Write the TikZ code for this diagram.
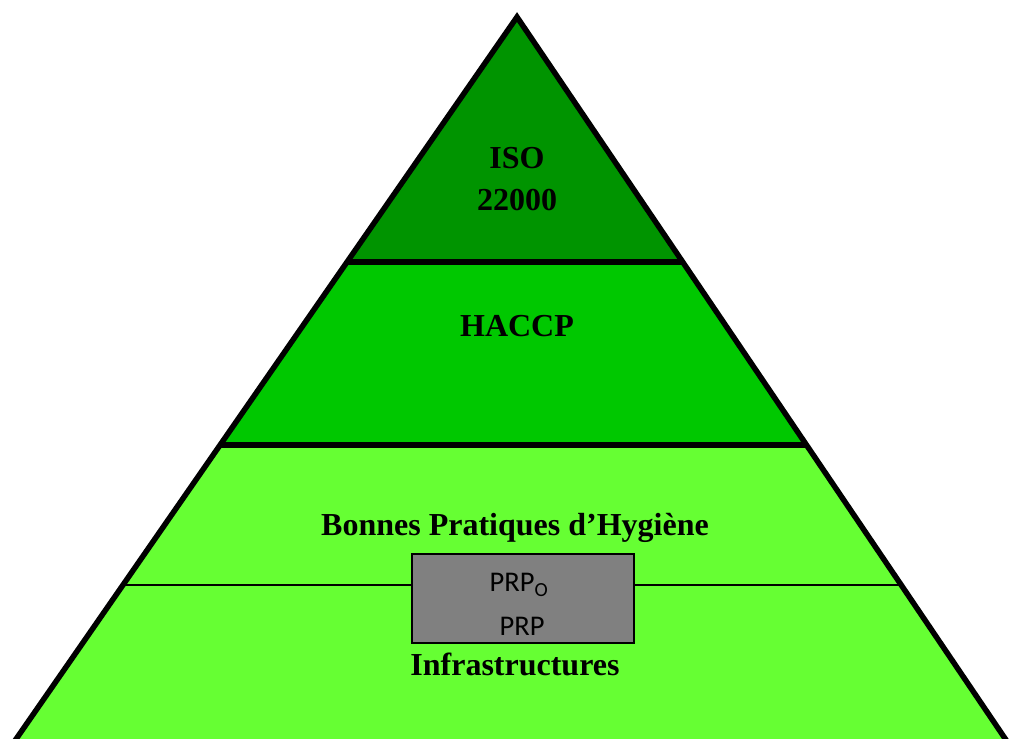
\documentclass[tikz,border=0pt]{standalone}
\usepackage{fontspec}
\setmainfont{Liberation Serif}
\newfontfamily\prpfont{Carlito}
\definecolor{topgreen}{HTML}{009400}
\definecolor{midgreen}{HTML}{00C800}
\definecolor{lowgreen}{HTML}{66FF33}
\definecolor{boxgray}{HTML}{808080}
\begin{document}
\begin{tikzpicture}[x=1pt,y=-1pt,
  layer/.style={draw=black,line width=5.5pt,line join=miter},
  lbl/.style={font=\fontsize{32}{42}\selectfont\bfseries,align=center,inner sep=0pt},
  prp/.style={font=\prpfont\fontsize{28.5}{32}\selectfont,inner sep=0pt}]
\useasboundingbox (0,0) rectangle (1010,739);
\begin{scope}
\clip (0,0) rectangle (1010,739);
\coordinate (apex) at (517,17);
\coordinate (l1) at (347,262);
\coordinate (r1) at (683,262);
\coordinate (l2) at (220,445);
\coordinate (r2) at (807,445);
\coordinate (l3) at (123,585);
\coordinate (r3) at (902,585);
\coordinate (lb) at (-4,768);
\coordinate (rb) at (1025,768);
\fill[lowgreen] (l2) -- (r2) -- (rb) -- (lb) -- cycle;
\fill[midgreen] (l1) -- (r1) -- (r2) -- (l2) -- cycle;
\fill[topgreen] (apex) -- (r1) -- (l1) -- cycle;
\draw[line width=1.2pt] (l3) -- (r3);
\draw[line width=6pt] (l1) -- (r1);
\draw[line width=6pt] (l2) -- (r2);
\draw[layer] (lb) -- (apex) -- (rb);
\end{scope}
\node[draw=black,line width=1.5pt,fill=boxgray,minimum width=222pt,minimum height=89pt,inner sep=0pt] (box) at (523,598.5) {};
\node[prp] (prpo) at (519,585) {PRP\textsubscript{O}};
\node[prp] (prp) at (522,626) {PRP};
\node[lbl] (iso) at (517,179) {ISO\\22000};
\node[lbl] (haccp) at (517,326) {HACCP};
\node[lbl] (bph) at (515,528) {Bonnes Pratiques d’Hygiène};
\node[lbl] (infra) at (515,664) {Infrastructures};
\end{tikzpicture}
\end{document}
